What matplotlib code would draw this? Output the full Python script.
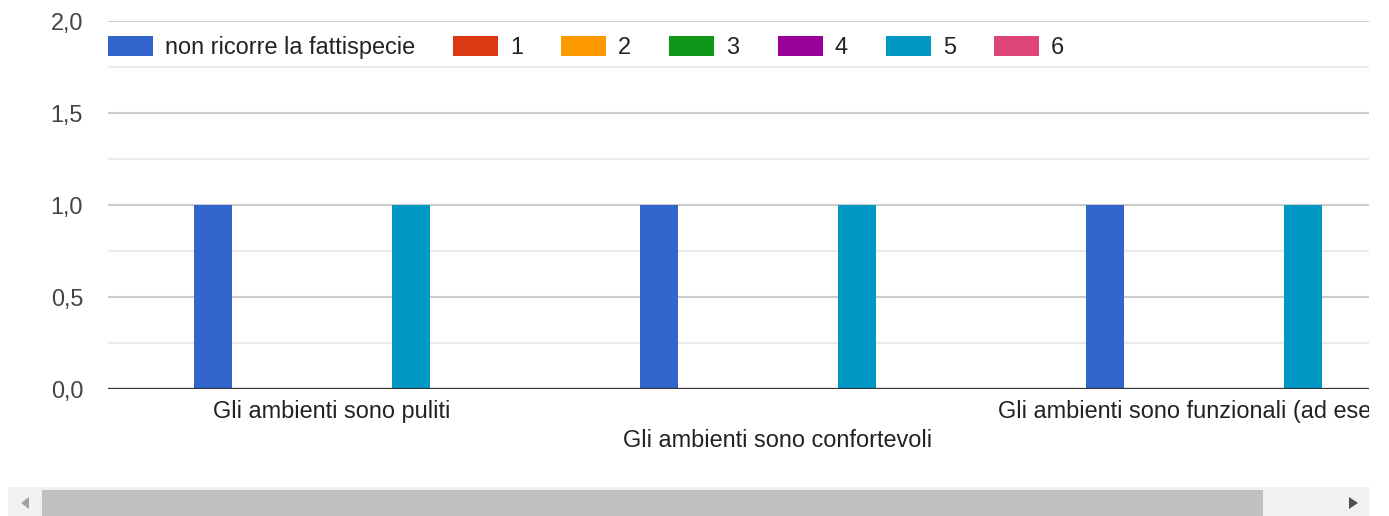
import matplotlib
matplotlib.use("Agg")
import matplotlib.pyplot as plt
import numpy as np
from matplotlib.patches import Rectangle, Polygon
from matplotlib.transforms import Bbox, TransformedBbox

plt.rcParams['font.family'] = ['Liberation Sans', 'DejaVu Sans']

categories = ["Gli ambienti sono puliti",
              "Gli ambienti sono confortevoli",
              "Gli ambienti sono funzionali (ad esempio...)"]
series_names = ["non ricorre la fattispecie", "1", "2", "3", "4", "5", "6"]
series_values = [
    [1, 1, 1],
    [0, 0, 0],
    [0, 0, 0],
    [0, 0, 0],
    [0, 0, 0],
    [1, 1, 1],
    [0, 0, 0],
]
colors = ["#3366cc", "#dc3912", "#ff9900", "#109618", "#990099", "#0099c6", "#dd4477"]
y_ticks = [0.0, 0.5, 1.0, 1.5, 2.0]
y_labels = ["0,0", "0,5", "1,0", "1,5", "2,0"]

W, H = 1389, 516
FS = 16.9
fig = plt.figure(figsize=(W / 100, H / 100), dpi=100)
ax = fig.add_axes([108 / W, (H - 389) / H, (1369 - 108) / W, (389 - 21) / H])

x = np.arange(len(categories))
step = 39.6 / 446
width = 38 / 446
for i, (name, vals, c) in enumerate(zip(series_names, series_values, colors)):
    ax.bar(x + (i - 3) * step, vals, width=width, color=c, label=name, linewidth=0, zorder=3)

ax.set_xlim(-0.5 - 1 / 446, -0.5 + 1260 / 446)
ax.set_ylim(0, 2)
ax.set_yticks(y_ticks)
ax.set_yticklabels(y_labels, fontsize=FS, color="#444444")
ax.set_yticks([0.25, 0.75, 1.25, 1.75], minor=True)
ax.grid(True, which="major", axis="y", color="#cccccc", linewidth=1.5, zorder=0)
ax.grid(True, which="minor", axis="y", color="#ebebeb", linewidth=1.5, zorder=0)
ax.axhline(0, color="#333333", linewidth=1.6, zorder=4)
for s in ax.spines.values():
    s.set_visible(False)
ax.tick_params(axis="y", which="both", length=0, pad=18)
ax.tick_params(axis="x", length=0)

ax.set_xticks(x)
ax.set_xticklabels(categories, fontsize=FS, color="#222222")
ticks = ax.xaxis.get_major_ticks()
ticks[0].set_pad(8)
ticks[1].set_pad(28.5)
ticks[2].set_pad(8)
# the chart is scrolled: the last label is cut at the right edge of the plot
clip = TransformedBbox(Bbox([[0, 0], [1369 / W, 1]]), fig.transFigure)
for lab in ax.get_xticklabels():
    lab.set_clip_box(clip)
    lab.set_clip_on(True)

ax.legend(loc="center left", bbox_to_anchor=(0, (389 - 47.5) / 368), ncol=7, frameon=False,
          fontsize=FS, handlelength=1.92, handleheight=0.92, handletextpad=0.51,
          columnspacing=1.62, borderpad=0, borderaxespad=0, labelcolor="#222222")

# scrollbar
ov = fig.add_axes([0, 0, 1, 1], zorder=5)
ov.set_xlim(0, W)
ov.set_ylim(H, 0)
ov.axis("off")
ov.patch.set_alpha(0)
ov.add_patch(Rectangle((8, 487), 1361, 29, color="#f1f1f1", linewidth=0))
ov.add_patch(Rectangle((42, 490), 1221, 26, color="#c1c1c1", linewidth=0))
ov.add_patch(Polygon([[29, 497], [29, 509], [21, 503]], color="#a3a3a3", linewidth=0))
ov.add_patch(Polygon([[1349, 497], [1349, 509], [1358, 503]], color="#505050", linewidth=0))

fig.savefig("out.png", dpi=100)
